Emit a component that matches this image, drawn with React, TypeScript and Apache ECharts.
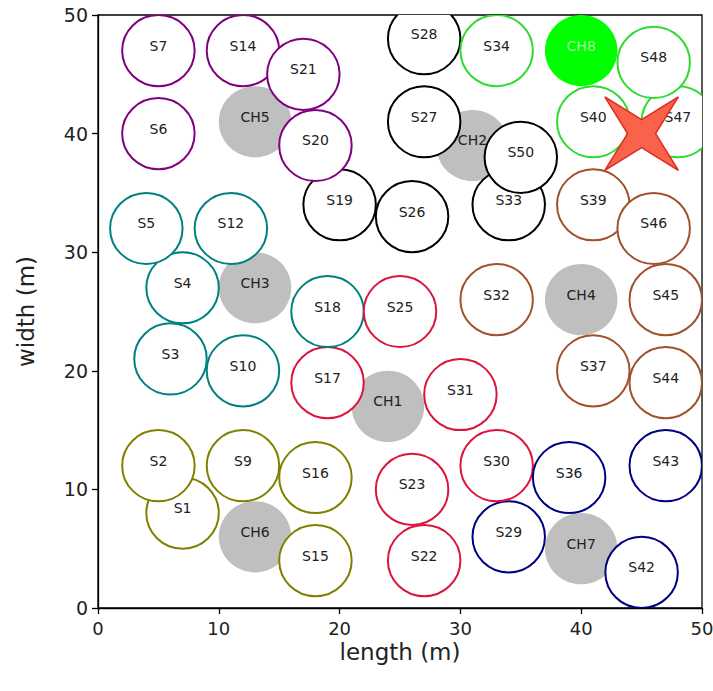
import React, { useEffect, useRef } from "react";
import * as echarts from "echarts";

// Cluster heads
const headNames = ["CH1", "CH2", "CH3", "CH4", "CH5", "CH6", "CH7", "CH8"];
const headX = [24, 31, 13, 40, 13, 13, 40, 40];
const headY = [17, 39, 27, 26, 41, 6, 5, 47];

// Sensors (drawn in number order)
const sensorNames = [
  "S1", "S2", "S3", "S4", "S5", "S6", "S7", "S9", "S10", "S12", "S14", "S15", "S16", "S17",
  "S18", "S19", "S20", "S21", "S22", "S23", "S25", "S26", "S27", "S28", "S29", "S30", "S31",
  "S32", "S33", "S34", "S36", "S37", "S39", "S40", "S42", "S43", "S44", "S45", "S46", "S47",
  "S48", "S50",
];
const sensorX = [
  7, 5, 6, 7, 4, 5, 5, 12, 12, 11, 12, 18, 18, 19,
  19, 20, 18, 17, 27, 26, 25, 26, 27, 27, 34, 33, 30,
  33, 34, 33, 39, 41, 41, 41, 45, 47, 47, 47, 46, 48,
  46, 35,
];
const sensorY = [
  8, 12, 21, 27, 32, 40, 47, 12, 20, 32, 47, 4, 11, 19,
  25, 34, 39, 45, 4, 10, 25, 33, 41, 48, 6, 12, 18,
  26, 34, 47, 11, 20, 34, 41, 3, 12, 19, 26, 32, 41,
  46, 38,
];
// index into headNames of each sensor's cluster head
const sensorHead = [
  5, 5, 2, 2, 2, 4, 4, 5, 2, 2, 4, 5, 5, 0,
  2, 1, 4, 4, 0, 0, 0, 1, 1, 1, 6, 0, 0,
  3, 1, 7, 6, 3, 3, 7, 6, 6, 3, 3, 3, 7,
  7, 1,
];

// Sink position
const sinkX = [45];
const sinkY = [40];

const clusterColors = ["#dc143c", "#000000", "#008080", "#a0522d", "#800080", "#808000", "#000080", "#2edb2e"];
const RADIUS = 3;
const FONT = "DejaVu Sans";

export default function App() {
  const ref = useRef<HTMLDivElement>(null);
  useEffect(() => {
    if (!ref.current) return;
    const chart = echarts.init(ref.current, null, { renderer: "svg" });

    const headData = headNames.map((n, i) => [headX[i], headY[i], i]);
    const sensorData = sensorNames.map((n, i) => [sensorX[i], sensorY[i], i]);
    const sinkData = sinkX.map((x, i) => [x, sinkY[i]]);

    const makeRender = (isHead: boolean) => (params: any, api: any) => {
      const i = params.dataIndex;
      const c = api.coord([api.value(0), api.value(1)]);
      const s = api.size([RADIUS, RADIUS]);
      let fill: string, stroke: string, lineWidth: number, label: string, textColor: string;
      if (isHead) {
        fill = i === 7 ? "#00ff00" : "#bfbfbf";
        stroke = "none";
        lineWidth = 0;
        label = headNames[i];
        textColor = i === 7 ? "#a6efa6" : "#222222";
      } else {
        fill = "#ffffff";
        stroke = clusterColors[sensorHead[i]];
        lineWidth = 2;
        label = sensorNames[i];
        textColor = "#222222";
      }
      return {
        type: "group",
        children: [
          {
            type: "ellipse",
            shape: { cx: c[0], cy: c[1], rx: s[0], ry: s[1] },
            style: { fill, stroke, lineWidth },
          },
          {
            type: "text",
            x: c[0],
            y: c[1] - 5,
            style: {
              text: label,
              fill: textColor,
              fontSize: 14,
              fontFamily: FONT,
              align: "center",
              verticalAlign: "middle",
            },
          },
        ],
      };
    };

    const renderSink = (params: any, api: any) => {
      const c = api.coord([api.value(0), api.value(1)]);
      const outer = 52;
      const inner = 14;
      const pts: number[][] = [];
      for (let k = 0; k < 8; k++) {
        const ang = (k * Math.PI) / 4;
        const r = k % 2 === 0 ? inner : outer;
        pts.push([c[0] + r * Math.cos(ang), c[1] + r * Math.sin(ang)]);
      }
      return {
        type: "polygon",
        shape: { points: pts },
        style: { fill: "#f9624b", stroke: "#e02a1e", lineWidth: 1.5 },
      };
    };

    const axisCommon = {
      type: "value" as const,
      min: 0,
      max: 50,
      interval: 10,
      splitLine: { show: false },
      axisLine: { show: true, onZero: false, lineStyle: { color: "#000", width: 1.3 } },
      axisTick: { show: true, inside: false, length: 6, lineStyle: { color: "#000", width: 1.3 } },
      nameLocation: "middle" as const,
      nameMoveOverlap: false,
      nameTextStyle: { fontFamily: FONT, fontSize: 23, color: "#222" },
    };

    chart.setOption({
      animation: false,
      backgroundColor: "#ffffff",
      grid: {
        left: 98,
        top: 15,
        width: 604,
        height: 593,
        show: true,
        outerBoundsMode: "none",
        containLabel: false,
        borderColor: "#000",
        borderWidth: 1.3,
        backgroundColor: "transparent",
      },
      xAxis: {
        ...axisCommon,
        name: "length (m)",
        nameGap: 32,
        axisLabel: { fontFamily: FONT, fontSize: 18, color: "#222", margin: 11 },
      },
      yAxis: {
        ...axisCommon,
        name: "width (m)",
        nameGap: 61,
        axisLabel: { fontFamily: FONT, fontSize: 19, color: "#222", margin: 10 },
      },
      series: [
        {
          type: "custom",
          coordinateSystem: "cartesian2d",
          clip: true,
          data: headData,
          renderItem: makeRender(true),
          z: 2,
        },
        {
          type: "custom",
          coordinateSystem: "cartesian2d",
          clip: true,
          data: sensorData,
          renderItem: makeRender(false),
          z: 3,
        },
        {
          type: "custom",
          coordinateSystem: "cartesian2d",
          clip: false,
          data: sinkData,
          renderItem: renderSink,
          z: 4,
        },
      ],
    });
    return () => chart.dispose();
  }, []);
  return (
    <div
      ref={ref}
      style={{ position: "fixed", left: 0, top: 0, width: 713, height: 691, background: "#fff" }}
    />
  );
}
